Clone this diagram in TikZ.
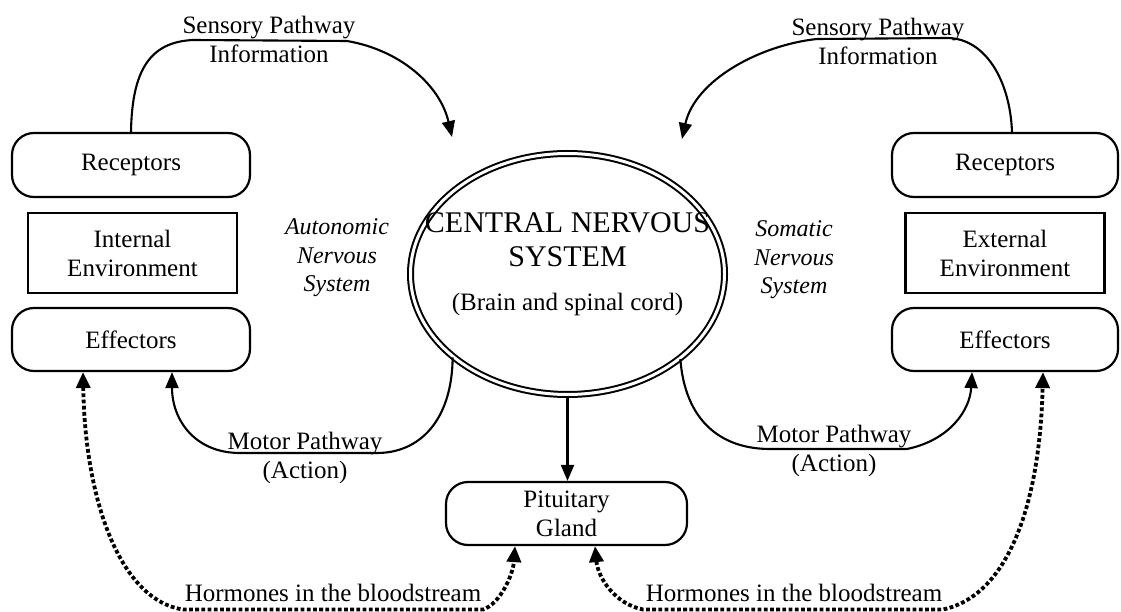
\documentclass[tikz,border=0pt]{standalone}
\usepackage{fontspec}
\setmainfont{Liberation Serif}
\usetikzlibrary{arrows.meta,shapes.geometric}
\begin{document}
\begin{tikzpicture}[x=1pt,y=-1pt,
  txt/.style={font=\fontsize{25}{29}\selectfont, align=center, inner sep=0pt},
  itx/.style={font=\fontsize{24}{28.5}\selectfont\itshape, align=center, inner sep=0pt},
  bigtxt/.style={font=\fontsize{30}{34}\selectfont, align=center, inner sep=0pt},
  pill/.style={draw, line width=2.2pt, rounded corners=22pt, inner sep=0pt, txt},
  envbox/.style={draw, line width=2.2pt, inner sep=0pt, txt},
  conn/.style={line width=2.1pt, -{Triangle[length=16pt,width=13pt]}},
  horm/.style={line width=3.8pt, dash pattern=on 3.8pt off 2.4pt,
    {Triangle[length=16pt,width=14pt]}-{Triangle[length=16pt,width=14pt]}},
]
\useasboundingbox (0,0) rectangle (1121,612);

% left column
\node[pill, minimum width=238pt, minimum height=64pt] (recL) at (131,165) {Receptors};
\node[envbox, minimum width=209pt, minimum height=80pt] (envL) at (132.5,253) {Internal\\Environment};
\node[pill, minimum width=238pt, minimum height=63pt] (effL) at (131,339.5) {Effectors};

% right column
\node[pill, minimum width=226pt, minimum height=64pt] (recR) at (1005,165) {Receptors};
\node[envbox, minimum width=199pt, minimum height=80pt] (envR) at (1005,253) {External\\Environment};
\node[pill, minimum width=226pt, minimum height=63pt] (effR) at (1005,339.5) {Effectors};

% central nervous system
\node[ellipse, draw, double, double distance=3pt, line width=2pt,
      minimum width=314pt, minimum height=241pt, inner sep=0pt] (cns) at (567.5,274) {};
\node[bigtxt] (cnsA) at (567.5,223) {CENTRAL NERVOUS};
\node[bigtxt] (cnsB) at (567.5,257) {SYSTEM};
\node[txt] (cnsC) at (567.5,304) {(Brain and spinal cord)};

% pituitary
\node[pill, minimum width=241pt, minimum height=63pt] (pit) at (566.5,513.5) {Pituitary\\Gland};

% labels
\node[txt] (sensL) at (269,39) {Sensory Pathway\\Information};
\node[txt] (sensR) at (878,41) {Sensory Pathway\\Information};
\node[itx] (ans) at (337,258) {Autonomic\\Nervous\\System};
\node[itx] (sns) at (794,260) {Somatic\\Nervous\\System};
\node[txt] (motL) at (305,457.5) {Motor Pathway\\(Action)};
\node[txt] (motR) at (834,450.5) {Motor Pathway\\(Action)};
\node[txt] (hormL) at (333,593) {Hormones in the bloodstream};
\node[txt] (hormR) at (794,593) {Hormones in the bloodstream};

% sensory pathways
\coordinate (sLtip) at (452,137);
\coordinate (sRtip) at (682,139);
\draw[conn] (recL.north) .. controls (132,70) and (150,42) .. (193,40) -- (347,41)
  .. controls (400,50) and (440,85) .. (sLtip);
\draw[conn] ([xshift=7pt]recR.north) .. controls (1010,80) and (985,38) .. (947,38) -- (817,39)
  .. controls (760,45) and (695,80) .. (sRtip);

% motor pathways
\draw[conn] (cns.216) .. controls (452,420) and (420,453) .. (377,453) -- (240,453)
  .. controls (195,453) and (172,420) .. ([xshift=41pt]effL.south);
\draw[conn] (cns.323) .. controls (685,420) and (720,449) .. (770,449) -- (907,449)
  .. controls (950,440) and (970,410) .. ([xshift=-33pt]effR.south);

% CNS to pituitary
\draw[conn] (cns.south) -- (cns.south |- pit.north);

% hormones
\draw[horm] ([xshift=-48pt]effL.south) .. controls (85,500) and (120,600) .. (183,609.5)
  -- (483,609.5) .. controls (500,604) and (513,575) .. ([xshift=-51.5pt]pit.south);
\draw[horm] ([xshift=28.5pt]pit.south) .. controls (598,578) and (615,604) .. (643,609.5)
  -- (943,609.5) .. controls (1010,595) and (1040,500) .. ([xshift=38pt]effR.south);
\end{tikzpicture}
\end{document}
